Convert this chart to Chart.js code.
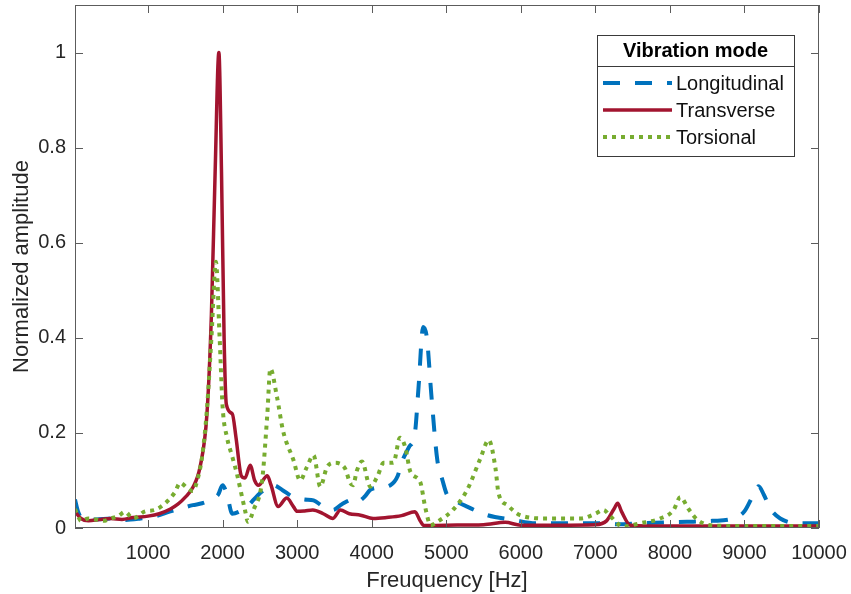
<!DOCTYPE html>
<html>
<head>
<meta charset="utf-8">
<script src="https://cdn.jsdelivr.net/npm/chart.js@4"></script>
<style>
  html, body { margin: 0; padding: 0; background: #fff; }
  #wrap { width: 851px; height: 594px; }
</style>
</head>
<body>
<div id="wrap"><canvas id="modeChart" width="851" height="594"></canvas></div>
<script>
// ---- data ----
const seriesNames = ['Longitudinal', 'Transverse', 'Torsional'];
const legendTitle = 'Vibration mode';

const longFreq = [20, 60, 120, 300, 500, 700, 900, 1100, 1300, 1460, 1600, 1725, 1850, 1940, 2000, 2060, 2130, 2230, 2330, 2420, 2500, 2600, 2680, 2800, 2950, 3100, 3220, 3350, 3480, 3600, 3750, 3800, 3900, 3980, 4100, 4250, 4350, 4400, 4500, 4580, 4630, 4690, 4740, 4800, 4880, 4950, 5010, 5150, 5280, 5550, 5900, 6200, 6600, 7000, 7300, 7600, 8000, 8230, 8570, 8850, 9000, 9120, 9190, 9260, 9350, 9480, 9700, 10000];
const longAmp = [0.06, 0.035, 0.02, 0.018, 0.02, 0.017, 0.02, 0.025, 0.035, 0.042, 0.048, 0.052, 0.06, 0.07, 0.09, 0.07, 0.03, 0.035, 0.045, 0.06, 0.073, 0.085, 0.09, 0.08, 0.065, 0.06, 0.058, 0.045, 0.038, 0.05, 0.06, 0.055, 0.065, 0.08, 0.085, 0.09, 0.11, 0.137, 0.17, 0.2, 0.3, 0.423, 0.4, 0.28, 0.143, 0.1, 0.07, 0.055, 0.045, 0.027, 0.017, 0.01, 0.01, 0.01, 0.008, 0.01, 0.012, 0.013, 0.015, 0.02, 0.035, 0.07, 0.088, 0.07, 0.04, 0.02, 0.01, 0.01];

const transFreq = [20, 100, 200, 350, 500, 650, 800, 1000, 1150, 1300, 1400, 1500, 1600, 1700, 1790, 1850, 1900, 1950, 1985, 2020, 2050, 2130, 2180, 2250, 2300, 2370, 2430, 2480, 2600, 2650, 2745, 2860, 2950, 3000, 3100, 3210, 3350, 3480, 3580, 3700, 3850, 4020, 4200, 4400, 4580, 4650, 4700, 5000, 5500, 5790, 6000, 6500, 7000, 7150, 7250, 7300, 7350, 7470, 8000, 9000, 10000];
const transAmp = [0.035, 0.02, 0.015, 0.018, 0.02, 0.018, 0.022, 0.025, 0.03, 0.04, 0.05, 0.065, 0.085, 0.13, 0.24, 0.45, 0.75, 1.0, 0.75, 0.4, 0.26, 0.24, 0.19, 0.11, 0.105, 0.132, 0.1, 0.09, 0.11, 0.09, 0.045, 0.063, 0.045, 0.035, 0.036, 0.038, 0.03, 0.02, 0.038, 0.03, 0.027, 0.02, 0.022, 0.026, 0.034, 0.015, 0.005, 0.006, 0.007, 0.012, 0.006, 0.006, 0.007, 0.015, 0.04, 0.052, 0.035, 0.006, 0.004, 0.004, 0.004];

const torsFreq = [20, 60, 100, 200, 300, 400, 500, 600, 690, 800, 960, 1090, 1230, 1360, 1430, 1520, 1600, 1660, 1725, 1790, 1850, 1910, 1960, 2000, 2060, 2130, 2190, 2300, 2340, 2420, 2530, 2600, 2640, 2730, 2810, 2950, 3040, 3130, 3220, 3310, 3400, 3500, 3640, 3710, 3750, 3800, 3870, 3980, 4080, 4160, 4290, 4380, 4450, 4520, 4650, 4720, 4790, 4900, 5090, 5280, 5460, 5570, 5660, 5700, 5820, 5990, 6350, 6800, 7000, 7110, 7200, 7370, 7600, 7870, 8050, 8140, 8250, 8370, 8600, 9000, 10000];
const torsAmp = [0.04, 0.025, 0.015, 0.02, 0.018, 0.015, 0.02, 0.025, 0.034, 0.02, 0.035, 0.038, 0.052, 0.075, 0.095, 0.085, 0.078, 0.1, 0.15, 0.25, 0.4, 0.56, 0.4, 0.255, 0.19, 0.15, 0.115, 0.038, 0.013, 0.04, 0.1, 0.24, 0.335, 0.275, 0.205, 0.143, 0.1, 0.128, 0.153, 0.087, 0.128, 0.137, 0.126, 0.095, 0.09, 0.12, 0.14, 0.087, 0.11, 0.137, 0.137, 0.19, 0.17, 0.118, 0.097, 0.042, 0.006, 0.015, 0.038, 0.08, 0.147, 0.185, 0.126, 0.074, 0.048, 0.027, 0.02, 0.02, 0.03, 0.038, 0.025, 0.003, 0.01, 0.02, 0.038, 0.065, 0.04, 0.017, 0.005, 0.004, 0.004];

const xTicks = [1000, 2000, 3000, 4000, 5000, 6000, 7000, 8000, 9000, 10000];
const yTicks = [0, 0.2, 0.4, 0.6, 0.8, 1];

const FONT = "'Liberation Sans', Arial, Helvetica, sans-serif";
const TXT = '#262626';
const AXIS = '#5c5c5c';

function pairs(fs, as) {
    return fs.map((f, i) => ({ x: f, y: as[i] }));
}

// no extra room for overhanging tick labels, the layout padding decides
function noOverhang(s) {
    s.paddingTop = 0;
    s.paddingBottom = 0;
    s.paddingLeft = 0;
    s.paddingRight = 0;
}

// box, inward ticks and legend (matlab style)
const framePlugin = {
    id: 'frame',
    afterDraw(chart) {
        const { ctx, chartArea: a, scales: { x, y } } = chart;
        ctx.save();
        ctx.strokeStyle = AXIS;
        ctx.lineWidth = 1;
        ctx.strokeRect(a.left + 0.5, a.top + 0.5, a.right - a.left - 1, a.bottom - a.top - 1);
        ctx.beginPath();
        xTicks.forEach(v => {
            const px = Math.round(x.getPixelForValue(v)) + 0.5;
            ctx.moveTo(px, a.bottom); ctx.lineTo(px, a.bottom - 8);
            ctx.moveTo(px, a.top); ctx.lineTo(px, a.top + 8);
        });
        yTicks.forEach(v => {
            const py = Math.round(y.getPixelForValue(v)) + 0.5;
            ctx.moveTo(a.left, py); ctx.lineTo(a.left + 8, py);
            ctx.moveTo(a.right, py); ctx.lineTo(a.right - 8, py);
        });
        ctx.stroke();

        // legend box
        const bx = 597, by = 35, bw = 197, bh = 121;
        ctx.fillStyle = '#fff';
        ctx.fillRect(bx, by, bw, bh);
        ctx.strokeStyle = '#3a3a3a';
        ctx.strokeRect(bx + 0.5, by + 0.5, bw, bh);
        ctx.beginPath();
        ctx.moveTo(bx, 66.5); ctx.lineTo(bx + bw, 66.5);
        ctx.stroke();

        ctx.fillStyle = '#000';
        ctx.font = 'bold 20px ' + FONT;
        ctx.textAlign = 'center';
        ctx.textBaseline = 'middle';
        ctx.fillText(legendTitle, bx + bw / 2, 51);

        ctx.font = '20px ' + FONT;
        ctx.textAlign = 'left';
        chart.data.datasets.forEach((ds, i) => {
            const ry = 83 + i * 27;
            ctx.save();
            ctx.strokeStyle = ds.borderColor;
            ctx.lineWidth = ds.borderWidth;
            ctx.setLineDash(ds.borderDash || []);
            ctx.beginPath();
            ctx.moveTo(603, ry); ctx.lineTo(672, ry);
            ctx.stroke();
            ctx.restore();
            ctx.fillStyle = '#111';
            ctx.fillText(ds.label, 676, ry + 1);
        });
        ctx.restore();
    }
};

const chart = new Chart(document.getElementById('modeChart').getContext('2d'), {
    type: 'line',
    data: {
        datasets: [{
            label: seriesNames[0],
            data: pairs(longFreq, longAmp),
            borderColor: '#0072BD',
            borderWidth: 4,
            borderDash: [17, 15],
            order: 3
        }, {
            label: seriesNames[1],
            data: pairs(transFreq, transAmp),
            borderColor: '#A2142F',
            borderWidth: 3.5,
            order: 2
        }, {
            label: seriesNames[2],
            data: pairs(torsFreq, torsAmp),
            borderColor: '#77AC30',
            borderWidth: 4,
            borderDash: [4, 5],
            order: 1
        }]
    },
    options: {
        responsive: false,
        animation: false,
        devicePixelRatio: 1,
        layout: { padding: { left: 0, right: 32, top: 5, bottom: 0 } },
        elements: {
            point: { radius: 0 },
            line: { cubicInterpolationMode: 'monotone', borderCapStyle: 'butt', fill: false }
        },
        plugins: {
            legend: { display: false },
            tooltip: { enabled: false }
        },
        scales: {
            x: {
                type: 'linear',
                min: 20,
                max: 10000,
                grid: { display: false },
                border: { display: false },
                afterBuildTicks: s => { s.ticks = xTicks.map(v => ({ value: v })); },
                afterFit: s => { s.height = 66; noOverhang(s); },
                ticks: {
                    padding: 5,
                    color: TXT,
                    font: { family: FONT, size: 20 },
                    maxRotation: 0,
                    autoSkip: false,
                    callback: v => String(v)
                },
                title: {
                    display: true,
                    text: 'Freuquency [Hz]',
                    color: TXT,
                    font: { family: FONT, size: 22, lineHeight: 1.2 },
                    padding: { top: 3, bottom: 0 }
                }
            },
            y: {
                min: 0,
                max: 1.1,
                grid: { display: false },
                border: { display: false },
                afterBuildTicks: s => { s.ticks = yTicks.map(v => ({ value: v })); },
                afterFit: s => { s.width = 75; noOverhang(s); },
                ticks: {
                    padding: 1,
                    color: TXT,
                    font: { family: FONT, size: 20 },
                    autoSkip: false,
                    callback: v => String(v)
                },
                title: {
                    display: true,
                    text: 'Normalized amplitude',
                    color: TXT,
                    font: { family: FONT, size: 22, lineHeight: 1.2 },
                    padding: { top: 9, bottom: 0 }
                }
            }
        }
    },
    plugins: [framePlugin]
});
</script>
</body>
</html>
